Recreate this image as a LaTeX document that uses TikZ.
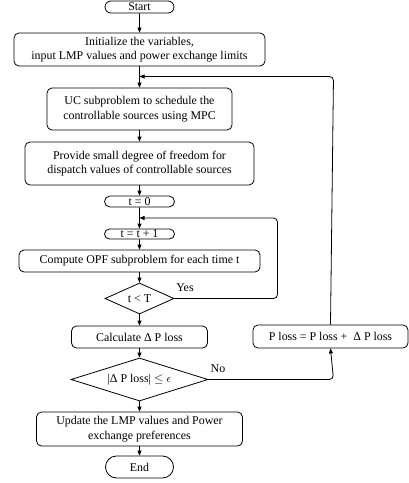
\documentclass[tikz,border=0pt]{standalone}
\usepackage{fontspec}
\setmainfont{Liberation Serif}
\usetikzlibrary{arrows.meta,shapes.geometric,shapes.misc}
\begin{document}
\begin{tikzpicture}[x=1pt,y=-1pt,
  font=\fontsize{11.9}{14.6}\selectfont,
  every node/.style={line width=0.8pt, text=black},
  proc/.style={draw, rounded corners=5pt, align=center, inner sep=0pt},
  term/.style={draw, rounded rectangle, align=center, inner sep=0pt},
  dec/.style={draw, diamond, align=center, inner sep=0.5pt},
  conn/.style={line width=0.8pt, -{Triangle[length=5pt,width=4pt]}},
  link/.style={line width=0.8pt},
  lbl/.style={inner sep=0pt}]
\useasboundingbox (0,0) rectangle (409,483);
\node[term, minimum width=69pt, minimum height=12pt] (start) at (139.5,7) {Start};
\node[proc, minimum width=251pt, minimum height=33pt] (init) at (139.5,49.5) {Initialize the variables,\\input LMP values and power exchange limits};
\node[proc, minimum width=185pt, minimum height=42pt] (uc) at (139.5,109) {UC subproblem to schedule the\\controllable sources using MPC};
\node[proc, minimum width=229pt, minimum height=43pt] (prov) at (139.5,163.5) {Provide small degree of freedom for\\dispatch values of controllable sources};
\node[term, minimum width=70pt, minimum height=11pt] (t0) at (139.5,201.5) {t = 0};
\node[term, minimum width=70pt, minimum height=10pt] (t1) at (139.5,234) {t = t + 1};
\node[proc, minimum width=241pt, minimum height=22pt] (comp) at (139.5,261) {Compute OPF subproblem for each time t};
\node[dec, aspect=2.2, minimum width=69pt, minimum height=31pt] (d1) at (139.5,298.5) {t {\textless} T};
\node[proc, minimum width=136pt, minimum height=22pt] (calc) at (139.5,337) {Calculate Δ P loss};
\node[proc, minimum width=155pt, minimum height=23pt] (ploss) at (330.5,336.5) {P loss = P loss +\ \ Δ P loss};
\node[dec, aspect=3.2, minimum width=137pt, minimum height=43pt] (d2) at (139.5,379.5) {|Δ P loss| $\leq\epsilon$};
\node[proc, minimum width=206pt, minimum height=34pt] (upd) at (139.5,429) {Update the LMP values and Power\\exchange preferences};
\node[term, minimum width=68pt, minimum height=22pt] (end) at (139.5,467) {End};
\node[lbl] (yes) at (185,288) {Yes};
\node[lbl] (no) at (218,369) {No};
\coordinate (j1) at (139.5,76.5);
\coordinate (j2) at (139.5,218);
\coordinate (c1) at (333.5,76.5);
\coordinate (c2) at (333.5,379.5);
\coordinate (c3) at (277.5,298.5);
\coordinate (c4) at (277.5,218);
\draw[conn] (start) -- (init);
\draw[conn] (init) -- (uc);
\draw[conn] (uc) -- (prov);
\draw[conn] (prov) -- (t0);
\draw[conn] (t0) -- (t1);
\draw[conn] (t1) -- (comp);
\draw[conn] (comp) -- (d1);
\draw[conn] (d1) -- (calc);
\draw[conn] (calc) -- (d2);
\draw[conn] (d2) -- (upd);
\draw[conn] (upd) -- (end);
\draw[conn, rounded corners=4pt] (d1.east) -- (c3) -- (c4) -- (j2);
\draw[conn, rounded corners=4pt] (d2.east) -- (c2) -- (ploss.south);
\draw[conn, rounded corners=4pt] (ploss.north) -- (c1) -- (j1);
\end{tikzpicture}
\end{document}
